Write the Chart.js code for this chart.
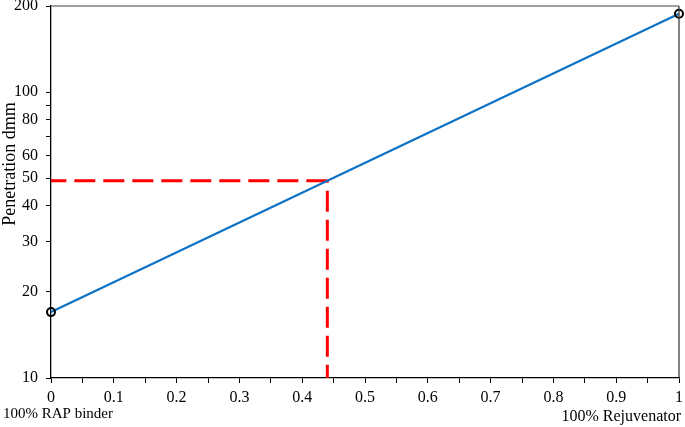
<!DOCTYPE html>
<html>
<head>
<meta charset="utf-8">
<script src="https://cdn.jsdelivr.net/npm/chart.js@4"></script>
<style>
html,body{margin:0;padding:0;background:#fff;}
#wrap{width:685px;height:427px;position:relative;}
</style>
</head>
<body>
<div id="wrap"><canvas id="c" width="685" height="427"></canvas></div>
<script>
// Data
const blendFraction = [0, 1];            // 0 = 100% RAP binder, 1 = 100% Rejuvenator
const penetration = [17, 188];           // dmm
const targetFraction = 0.44;
const targetPenetration = 49;
const yTickValues = [10, 20, 30, 40, 50, 60, 70, 80, 90, 100, 200];
const yTickHidden = [70, 90];
const yAxisTitle = 'Penetration dmm';
const leftLabel = '100% RAP binder';
const rightLabel = '100% Rejuvenator';

const FONT = "'Liberation Serif', 'Times New Roman', serif";

const framePlugin = {
  id: 'frame',
  afterDraw(chart) {
    const {ctx, chartArea: a} = chart;
    ctx.save();
    ctx.strokeStyle = '#7f7f7f';
    ctx.lineWidth = 1.3;
    ctx.beginPath();
    ctx.moveTo(a.left, a.top);
    ctx.lineTo(a.right, a.top);
    ctx.stroke();
    ctx.strokeStyle = '#404040';
    ctx.beginPath();
    ctx.moveTo(a.right, a.top);
    ctx.lineTo(a.right, a.bottom);
    ctx.stroke();
    // labels
    ctx.fillStyle = '#000';
    ctx.textBaseline = 'middle';
    ctx.textAlign = 'left';
    ctx.font = '15px ' + FONT;
    ctx.fillText(leftLabel, 3, 414);
    ctx.textAlign = 'right';
    ctx.font = '16px ' + FONT;
    ctx.fillText(rightLabel, a.right + 2, 417);
    ctx.save();
    ctx.translate(10, 164);
    ctx.rotate(-Math.PI / 2);
    ctx.textAlign = 'center';
    ctx.font = '18px ' + FONT;
    ctx.fillText(yAxisTitle, 0, 0);
    ctx.restore();
    ctx.restore();
  }
};

new Chart(document.getElementById('c'), {
  type: 'line',
  data: {
    datasets: [
      {
        data: blendFraction.map((x, i) => ({x, y: penetration[i]})),
        borderColor: '#0e72c4',
        borderWidth: 2.2,
        pointRadius: 4,
        pointBorderWidth: 2,
        pointBorderColor: '#000',
        pointBackgroundColor: 'rgba(255,255,255,0)',
        clip: false,
        order: 2
      },
      {
        data: [{x: targetFraction, y: targetPenetration}, {x: 0, y: targetPenetration}],
        borderColor: '#ff0000',
        borderWidth: 3,
        borderDash: [21, 8],
        pointRadius: 0,
        order: 3
      },
      {
        data: [{x: targetFraction, y: targetPenetration}, {x: targetFraction, y: 10}],
        borderColor: '#ff0000',
        borderWidth: 3,
        borderDash: [21, 8],
        borderDashOffset: 19,
        pointRadius: 0,
        order: 3
      }
    ]
  },
  options: {
    responsive: false,
    animation: false,
    layout: {padding: {left: 0, right: 5, top: 5, bottom: 0}},
    plugins: {legend: {display: false}, tooltip: {enabled: false}},
    scales: {
      x: {
        type: 'linear',
        min: 0, max: 1,
        afterFit(s) { s.height = 49; s.paddingLeft = 0; s.paddingRight = 0; },
        grid: {drawOnChartArea: false, drawTicks: true, tickLength: 5, color: '#000', tickWidth: 1},
        border: {display: true, color: '#000', width: 1.3},
        ticks: {
          stepSize: 0.05,
          autoSkip: false,
          maxRotation: 0,
          padding: 5,
          color: '#000',
          font: {family: FONT, size: 16},
          callback(v) {
            const r = Math.round(v * 100);
            if (r % 10 !== 0) return '';
            return String(Math.round(v * 10) / 10);
          }
        }
      },
      y: {
        type: 'logarithmic',
        min: 10, max: 200,
        afterFit(s) { s.width = 51; s.paddingTop = 0; s.paddingBottom = 0; },
        afterBuildTicks(s) { s.ticks = yTickValues.map(v => ({value: v})); },
        grid: {drawOnChartArea: false, drawTicks: true, tickLength: 5, color: '#000', tickWidth: 1},
        border: {display: true, color: '#000', width: 1.3},
        ticks: {
          autoSkip: false,
          padding: 8,
          color: '#000',
          font: {family: FONT, size: 16},
          callback(v) { return yTickHidden.includes(v) ? '' : String(v); }
        }
      }
    }
  },
  plugins: [framePlugin]
});
</script>
</body>
</html>
